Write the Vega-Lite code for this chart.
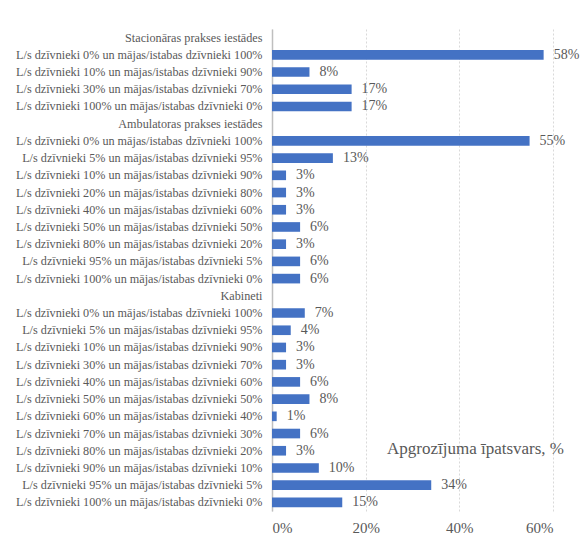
{
  "$schema": "https://vega.github.io/schema/vega-lite/v6.json",
  "autosize": "none",
  "width": 281,
  "height": 482,
  "padding": {"left": 272, "top": 29, "right": 29, "bottom": 34},
  "background": "white",
  "config": {"view": {"stroke": null}, "font": "Liberation Serif"},
  "data": {"values": [
    {"key": "S|Stacionāras prakses iestādes", "v": null},
    {"key": "S|L/s dzīvnieki 0% un mājas/istabas dzīvnieki 100%", "v": 0.58},
    {"key": "S|L/s dzīvnieki 10% un mājas/istabas dzīvnieki 90%", "v": 0.08},
    {"key": "S|L/s dzīvnieki 30% un mājas/istabas dzīvnieki 70%", "v": 0.17},
    {"key": "S|L/s dzīvnieki 100% un mājas/istabas dzīvnieki 0%", "v": 0.17},
    {"key": "A|Ambulatoras prakses iestādes", "v": null},
    {"key": "A|L/s dzīvnieki 0% un mājas/istabas dzīvnieki 100%", "v": 0.55},
    {"key": "A|L/s dzīvnieki 5% un mājas/istabas dzīvnieki 95%", "v": 0.13},
    {"key": "A|L/s dzīvnieki 10% un mājas/istabas dzīvnieki 90%", "v": 0.03},
    {"key": "A|L/s dzīvnieki 20% un mājas/istabas dzīvnieki 80%", "v": 0.03},
    {"key": "A|L/s dzīvnieki 40% un mājas/istabas dzīvnieki 60%", "v": 0.03},
    {"key": "A|L/s dzīvnieki 50% un mājas/istabas dzīvnieki 50%", "v": 0.06},
    {"key": "A|L/s dzīvnieki 80% un mājas/istabas dzīvnieki 20%", "v": 0.03},
    {"key": "A|L/s dzīvnieki 95% un mājas/istabas dzīvnieki 5%", "v": 0.06},
    {"key": "A|L/s dzīvnieki 100% un mājas/istabas dzīvnieki 0%", "v": 0.06},
    {"key": "K|Kabineti", "v": null},
    {"key": "K|L/s dzīvnieki 0% un mājas/istabas dzīvnieki 100%", "v": 0.07},
    {"key": "K|L/s dzīvnieki 5% un mājas/istabas dzīvnieki 95%", "v": 0.04},
    {"key": "K|L/s dzīvnieki 10% un mājas/istabas dzīvnieki 90%", "v": 0.03},
    {"key": "K|L/s dzīvnieki 30% un mājas/istabas dzīvnieki 70%", "v": 0.03},
    {"key": "K|L/s dzīvnieki 40% un mājas/istabas dzīvnieki 60%", "v": 0.06},
    {"key": "K|L/s dzīvnieki 50% un mājas/istabas dzīvnieki 50%", "v": 0.08},
    {"key": "K|L/s dzīvnieki 60% un mājas/istabas dzīvnieki 40%", "v": 0.01},
    {"key": "K|L/s dzīvnieki 70% un mājas/istabas dzīvnieki 30%", "v": 0.06},
    {"key": "K|L/s dzīvnieki 80% un mājas/istabas dzīvnieki 20%", "v": 0.03},
    {"key": "K|L/s dzīvnieki 90% un mājas/istabas dzīvnieki 10%", "v": 0.10},
    {"key": "K|L/s dzīvnieki 95% un mājas/istabas dzīvnieki 5%", "v": 0.34},
    {"key": "K|L/s dzīvnieki 100% un mājas/istabas dzīvnieki 0%", "v": 0.15}
  ]},
  "encoding": {
    "y": {
      "field": "key", "type": "nominal", "sort": null,
      "scale": {"paddingInner": 0.44, "paddingOuter": 0.22, "domain": [
        "S|Stacionāras prakses iestādes",
        "S|L/s dzīvnieki 0% un mājas/istabas dzīvnieki 100%",
        "S|L/s dzīvnieki 10% un mājas/istabas dzīvnieki 90%",
        "S|L/s dzīvnieki 30% un mājas/istabas dzīvnieki 70%",
        "S|L/s dzīvnieki 100% un mājas/istabas dzīvnieki 0%",
        "A|Ambulatoras prakses iestādes",
        "A|L/s dzīvnieki 0% un mājas/istabas dzīvnieki 100%",
        "A|L/s dzīvnieki 5% un mājas/istabas dzīvnieki 95%",
        "A|L/s dzīvnieki 10% un mājas/istabas dzīvnieki 90%",
        "A|L/s dzīvnieki 20% un mājas/istabas dzīvnieki 80%",
        "A|L/s dzīvnieki 40% un mājas/istabas dzīvnieki 60%",
        "A|L/s dzīvnieki 50% un mājas/istabas dzīvnieki 50%",
        "A|L/s dzīvnieki 80% un mājas/istabas dzīvnieki 20%",
        "A|L/s dzīvnieki 95% un mājas/istabas dzīvnieki 5%",
        "A|L/s dzīvnieki 100% un mājas/istabas dzīvnieki 0%",
        "K|Kabineti",
        "K|L/s dzīvnieki 0% un mājas/istabas dzīvnieki 100%",
        "K|L/s dzīvnieki 5% un mājas/istabas dzīvnieki 95%",
        "K|L/s dzīvnieki 10% un mājas/istabas dzīvnieki 90%",
        "K|L/s dzīvnieki 30% un mājas/istabas dzīvnieki 70%",
        "K|L/s dzīvnieki 40% un mājas/istabas dzīvnieki 60%",
        "K|L/s dzīvnieki 50% un mājas/istabas dzīvnieki 50%",
        "K|L/s dzīvnieki 60% un mājas/istabas dzīvnieki 40%",
        "K|L/s dzīvnieki 70% un mājas/istabas dzīvnieki 30%",
        "K|L/s dzīvnieki 80% un mājas/istabas dzīvnieki 20%",
        "K|L/s dzīvnieki 90% un mājas/istabas dzīvnieki 10%",
        "K|L/s dzīvnieki 95% un mājas/istabas dzīvnieki 5%",
        "K|L/s dzīvnieki 100% un mājas/istabas dzīvnieki 0%"
      ]},
      "axis": {
        "title": null,
        "labelExpr": "split(datum.label, '|')[1]",
        "labelFont": "Liberation Serif",
        "labelFontSize": 12.2,
        "labelColor": "#595959",
        "labelPadding": 10,
        "ticks": false,
        "domainColor": "#bfbfbf",
        "domainWidth": 1.5,
        "labelLimit": 400
      }
    },
    "x": {
      "field": "v", "type": "quantitative",
      "scale": {"domain": [0, 0.6], "nice": false},
      "axis": {
        "values": [0, 0.2, 0.4, 0.6],
        "format": ".0%",
        "domain": false,
        "ticks": false,
        "grid": true,
        "gridColor": "#d9d9d9",
        "gridDash": [2, 2],
        "labelFont": "Liberation Serif",
        "labelFontSize": 15,
        "labelColor": "#595959",
        "labelPadding": 9,
        "title": "Apgrozījuma īpatsvars, %",
        "titleFont": "Liberation Serif",
        "titleFontSize": 17,
        "titleFontWeight": "normal",
        "titleColor": "#595959",
        "titleAlign": "center",
        "titleBaseline": "middle",
        "titleAnchor": null,
        "titleX": 203,
        "titleY": -63
      }
    }
  },
  "layer": [
    {"mark": {"type": "bar", "color": "#4472c4"}},
    {
      "mark": {"type": "text", "align": "left", "baseline": "middle", "dx": 10, "font": "Liberation Serif", "fontSize": 14, "color": "#595959"},
      "encoding": {"text": {"field": "v", "type": "quantitative", "format": ".0%"}}
    }
  ]
}
